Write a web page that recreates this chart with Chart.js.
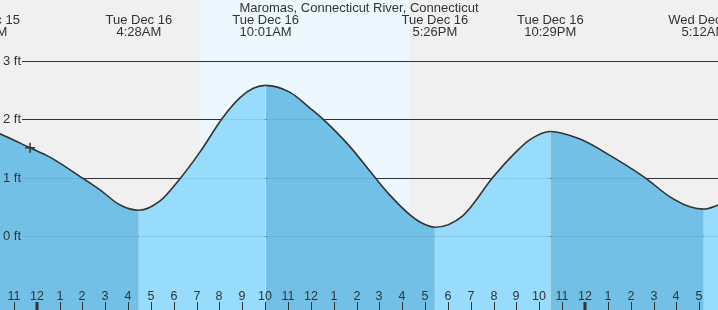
<!DOCTYPE html>
<html>
<head>
<meta charset="utf-8">
<script src="https://cdn.jsdelivr.net/npm/chart.js@4/dist/chart.umd.min.js"></script>
<style>
  html, body { margin: 0; padding: 0; background: #f0f0f0; }
  #wrap { width: 718px; height: 310px; }
</style>
</head>
<body>
<div id="wrap"><canvas id="tide"></canvas></div>
<script>
// hours counted from midnight, Tue Dec 16
const tideHours = [-2.27, -1.61, -0.29, 0.58, 1.97, 2.77, 3.65, 4.47, 5.40, 6.27, 7.15, 8.15, 8.90, 9.48, 10.02,
  11.09, 11.96, 12.53, 13.71, 14.81, 15.46, 16.34, 16.77, 17.43, 18.66, 19.96, 20.83, 21.59, 22.48,
  23.78, 25.18, 26.62, 27.72, 28.59, 29.20, 29.82, 30.30];
const tideFeet = [1.85, 1.75, 1.51, 1.35, 1.00, 0.79, 0.53, 0.44, 0.60, 0.98, 1.44, 2.03, 2.37, 2.53, 2.58,
  2.46, 2.19, 2.00, 1.53, 1.00, 0.70, 0.36, 0.24, 0.15, 0.35, 1.00, 1.38, 1.65, 1.79,
  1.66, 1.36, 1.00, 0.67, 0.50, 0.46, 0.53, 0.62];

const nowHour = -0.29;
const nowFeet = 1.51;

const eventHours = [-2.27, 4.47, 10.02, 17.43, 22.48, 29.2];
const eventDays  = ['Mon Dec 15', 'Tue Dec 16', 'Tue Dec 16', 'Tue Dec 16', 'Tue Dec 16', 'Wed Dec 17'];
const eventTimes = ['9:44PM', '4:28AM', '10:01AM', '5:26PM', '10:29PM', '5:12AM'];

const hourTicks = [-1, 0, 1, 2, 3, 4, 5, 6, 7, 8, 9, 10, 11, 12, 13, 14, 15, 16, 17, 18, 19, 20,
  21, 22, 23, 24, 25, 26, 27, 28, 29];
const hourLabels = ['11', '12', '1', '2', '3', '4', '5', '6', '7', '8', '9', '10', '11', '12', '1', '2',
  '3', '4', '5', '6', '7', '8', '9', '10', '11', '12', '1', '2', '3', '4', '5'];
const midnights = [0, 24];

const footTicks = [0, 1, 2, 3];
const daylight = [7.15, 16.29]; // sunrise, sunset

const RISING = '#97dcfd';
const FALLING = '#72c0e5';
const FONT = '13px "Liberation Sans", Arial, sans-serif';
const TICK_FONT = '12.5px "Liberation Sans", Arial, sans-serif';

const tideDecor = {
  id: 'tideDecor',
  beforeDatasetsDraw(chart) {
    const { ctx, scales: { x, y } } = chart;
    ctx.save();
    ctx.fillStyle = '#f0f0f0';
    ctx.fillRect(0, 0, chart.width, chart.height);
    const d0 = x.getPixelForValue(daylight[0]);
    const d1 = x.getPixelForValue(daylight[1]);
    ctx.fillStyle = '#ecf7fe';
    ctx.fillRect(d0, 0, d1 - d0, chart.height);
    ctx.strokeStyle = '#333';
    ctx.lineWidth = 1;
    footTicks.forEach(f => {
      const py = Math.round(y.getPixelForValue(f)) + 0.5;
      ctx.beginPath(); ctx.moveTo(22, py); ctx.lineTo(chart.width, py); ctx.stroke();
    });
    ctx.restore();
  },
  afterDatasetsDraw(chart) {
    const { ctx, scales: { x, y } } = chart;
    ctx.save();
    // faint grid lines showing through the water
    ctx.strokeStyle = 'rgba(0,60,120,0.1)';
    ctx.lineWidth = 1;
    footTicks.forEach(f => {
      const py = Math.round(y.getPixelForValue(f)) + 0.5;
      ctx.beginPath(); ctx.moveTo(22, py); ctx.lineTo(chart.width, py); ctx.stroke();
    });

    ctx.font = FONT;
    ctx.fillStyle = '#333';
    ctx.textBaseline = 'middle';
    ctx.textAlign = 'left';
    footTicks.forEach(f => ctx.fillText(f + ' ft', 3, y.getPixelForValue(f) + 0.5));

    // hour ticks + labels
    ctx.font = TICK_FONT;
    ctx.textAlign = 'center';
    ctx.textBaseline = 'alphabetic';
    ctx.strokeStyle = '#333';
    hourTicks.forEach((h, i) => {
      const px = Math.round(x.getPixelForValue(h));
      ctx.fillText(hourLabels[i], px, 299.5);
      if (midnights.includes(h)) {
        ctx.fillRect(px - 1.5, 302, 3, 8);
      } else {
        ctx.beginPath(); ctx.moveTo(px + 0.5, 302); ctx.lineTo(px + 0.5, 310); ctx.stroke();
      }
    });

    // title + high/low labels
    ctx.font = FONT;
    ctx.fillText('Maromas, Connecticut River, Connecticut', 359, 11.5);
    eventHours.forEach((h, i) => {
      const px = x.getPixelForValue(h);
      ctx.fillText(eventDays[i], px, 24);
      ctx.fillText(eventTimes[i], px, 36);
    });
    ctx.restore();
  }
};

new Chart(document.getElementById('tide'), {
  type: 'line',
  data: {
    datasets: [
      {
        label: 'now',
        data: [{ x: nowHour, y: nowFeet }],
        showLine: false,
        pointStyle: 'cross',
        pointRadius: 5,
        borderColor: '#333',
        borderWidth: 1.5,
      },
      {
        label: 'tide',
        data: tideHours.map((t, i) => ({ x: t, y: tideFeet[i] })),
        borderColor: '#333',
        borderWidth: 1.6,
        pointRadius: 0,
        cubicInterpolationMode: 'monotone',
        fill: 'start',
        backgroundColor: FALLING,
        segment: {
          backgroundColor: c => c.p1.parsed.y >= c.p0.parsed.y ? RISING : FALLING,
        },
      },
    ],
  },
  options: {
    responsive: true,
    maintainAspectRatio: false,
    animation: false,
    layout: { padding: 0, autoPadding: false },
    plugins: { legend: { display: false }, tooltip: { enabled: false } },
    scales: {
      x: { type: 'linear', display: false, min: -1.606, max: 29.82 },
      y: { type: 'linear', display: false, min: -1.267, max: 4.041 },
    },
  },
  plugins: [tideDecor],
});
</script>
</body>
</html>
